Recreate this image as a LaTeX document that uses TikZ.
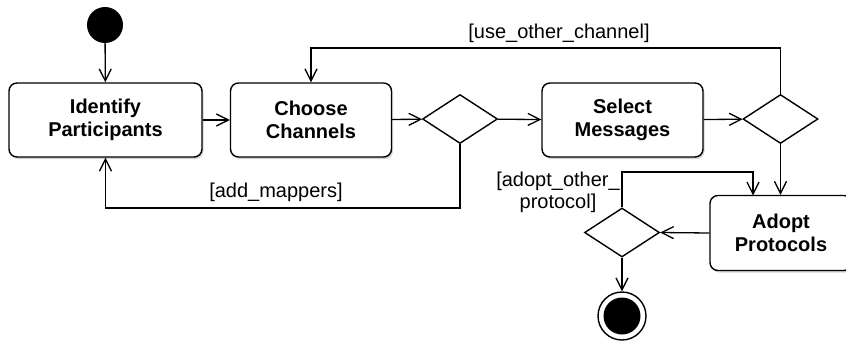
\documentclass[tikz,border=0pt]{standalone}
\usepackage{fontspec}
\setmainfont{Liberation Sans}
\usetikzlibrary{arrows.meta,shapes.geometric,shadows}
\tikzset{
  action/.style={draw, line width=1.4pt, rounded corners=8pt, fill=white,
    minimum width=161pt, minimum height=74pt, align=center,
    font=\fontsize{20}{22.5}\selectfont\bfseries,
    drop shadow={opacity=0.35, shadow xshift=1.5pt, shadow yshift=-2pt}},
  choice/.style={draw, line width=1.4pt, diamond, aspect=1.53, inner sep=0pt,
    minimum width=75pt, minimum height=49pt},
  guard/.style={font=\fontsize{20}{22}\selectfont, align=center},
  flow/.style={line width=1.3pt, -{Straight Barb[length=12pt,width=12pt,line width=1.3pt]}}
}
\begin{document}
\begin{tikzpicture}[x=1pt,y=-1pt]
  \useasboundingbox (0,0) rectangle (846,343);
  % nodes
  \node [circle, fill=black, minimum size=36pt, inner sep=0pt] (start) at (105,25) {};
  \node [action, minimum width=193pt] (ident) at (105.5,120) {Identify\\Participants};
  \node [action] (chan) at (311,120) {Choose\\Channels};
  \node [choice] (d1) at (460,119) {};
  \node [action] (msg) at (622.5,120) {Select\\Messages};
  \node [choice] (d2) at (780.5,119) {};
  \node [action, minimum width=142pt, minimum height=75pt] (proto) at (781,233) {Adopt\\Protocols};
  \node [choice] (d3) at (622,232.5) {};
  \node [circle, draw, line width=1.4pt, minimum size=48pt, inner sep=0pt] (stop) at (622,316) {};
  \node [circle, fill=black, minimum size=37pt, inner sep=0pt] at (stop) {};
  % flows
  \draw [flow] (start) -- (ident);
  \draw [flow] (ident) -- (chan);
  \draw [flow] (chan) -- (d1);
  \draw [flow] (d1) -- (msg);
  \draw [flow] (msg) -- (d2);
  \draw [flow] (d2.south) -- (proto.north -| d2.south);
  \draw [flow] (proto.west) -- (d3.east);
  \draw [flow] (d3.south) -- (stop.north);
  % loops
  \draw [flow] (d2.north) -- (d2.north |- 0,48) -| (chan.north);
  \node [guard] (lab1) at (559,33) {[use\_other\_channel]};
  \draw [flow] (d1.south) -- (d1.south |- 0,208) -| (ident.south);
  \node [guard] (lab2) at (276,192) {[add\_mappers]};
  \draw [flow] (d3.north) -- (d3.north |- 0,172) -| (753,195.5);
  \node [guard] (lab3) at (558,192) {[adopt\_other\_\\protocol]};
\end{tikzpicture}
\end{document}
